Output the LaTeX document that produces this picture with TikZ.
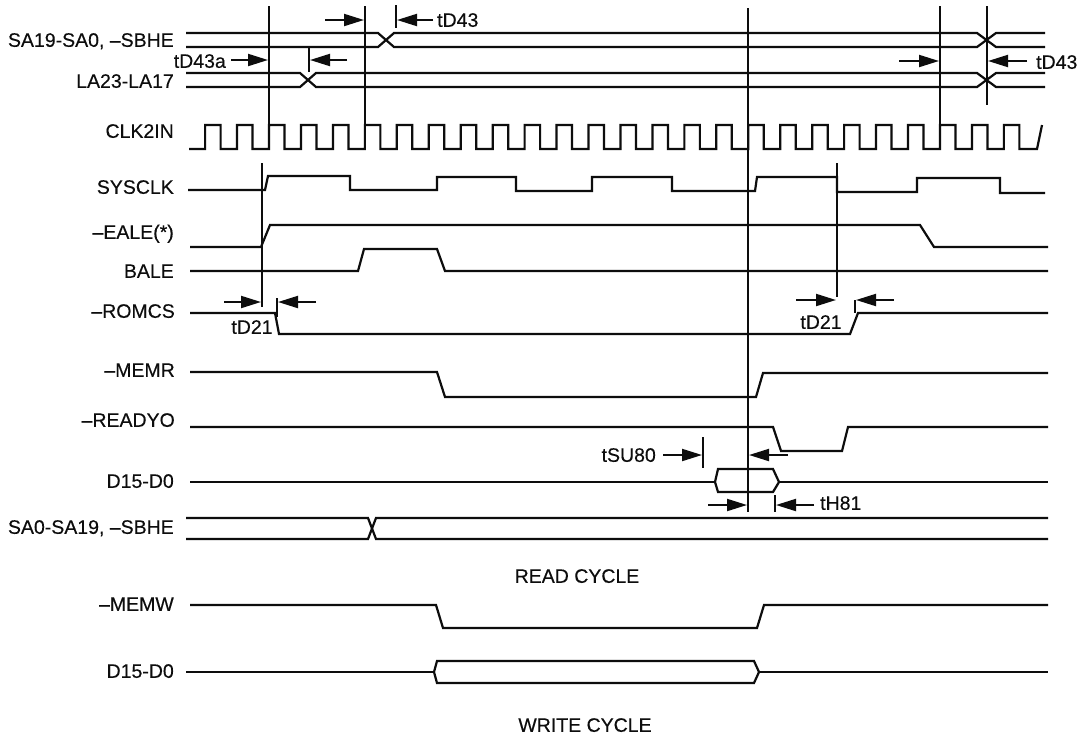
\documentclass[tikz,border=0pt]{standalone}
\usepackage{fontspec}
\setmainfont[FakeBold=0.25]{Liberation Sans}
\usetikzlibrary{arrows.meta}
\tikzset{
  wave/.style={line width=2.2pt,line join=miter,color=black!95},
  vline/.style={line width=2.2pt,color=black!95},
  dim/.style={line width=2pt,color=black!95,-{Triangle[length=20pt,width=12pt]}},
  sig/.style={anchor=east,inner sep=0pt,text height=13.6pt,text depth=0pt,font=\fontsize{19.5}{21}\selectfont,text=black!95},
  lab/.style={inner sep=0pt,text height=13.6pt,text depth=0pt,font=\fontsize{19.5}{21}\selectfont,text=black!95}
}
\begin{document}
\begin{tikzpicture}[x=1pt,y=-1pt]
\useasboundingbox (0,0) rectangle (1086,737);
\fill[white] (0,0) rectangle (1086,737);
% signal names
\node[sig] (n1) at (174,40) {SA19-SA0, –SBHE};
\node[sig] (n2) at (174,81) {LA23-LA17};
\node[sig] (n3) at (174,131) {CLK2IN};
\node[sig] (n4) at (174,187) {SYSCLK};
\node[sig] (n5) at (174,232) {–EALE(*)};
\node[sig] (n6) at (174,271) {BALE};
\node[sig] (n7) at (175,311) {–ROMCS};
\node[sig] (n8) at (175,370) {–MEMR};
\node[sig] (n9) at (175,420) {–READYO};
\node[sig] (n10) at (174,481) {D15-D0};
\node[sig] (n11) at (174,527) {SA0-SA19, –SBHE};
\node[sig] (n12) at (174,604) {–MEMW};
\node[sig] (n13) at (174,671) {D15-D0};
% address buses
\draw[wave] (186,33) -- (378,33) -- (394,47) -- (977,47) -- (996,33) -- (1045,33);
\draw[wave] (186,47) -- (378,47) -- (394,33) -- (977,33) -- (996,47) -- (1045,47);
\draw[wave] (186,73) -- (300,73) -- (316,87) -- (977,87) -- (996,73) -- (1045,73);
\draw[wave] (186,87) -- (300,87) -- (316,73) -- (977,73) -- (996,87) -- (1045,87);
% CLK2IN
\draw[wave] (189,149) foreach \k in {-2,...,23} {
  -- ({269+\k*31.95},149) -- ({269+\k*31.95},125) -- ({284.5+\k*31.95},125) -- ({284.5+\k*31.95},149)}
  -- (1037,149) -- (1042,125);
% SYSCLK
\draw[wave] (188,190) -- (265,190) -- (268,176) -- (350,176) -- (350,190) -- (437,190) -- (437,177)
  -- (516,177) -- (516,191) -- (592,191) -- (592,177) -- (672,177) -- (672,191) -- (755,191) -- (757,177)
  -- (837,177) -- (837,192) -- (917,192) -- (917,178) -- (1000,178) -- (1000,193) -- (1045,193);
% -EALE
\draw[wave] (190,247) -- (261,247) -- (270,225) -- (920,225) -- (934,247) -- (1048,247);
% BALE
\draw[wave] (190,271) -- (358,271) -- (364,249) -- (437,249) -- (445,271) -- (1048,271);
% -ROMCS
\draw[wave] (190,313) -- (275,313) -- (279,334) -- (850,334) -- (858,313) -- (1048,313);
% -MEMR
\draw[wave] (190,372) -- (437,372) -- (445,397) -- (756,397) -- (763,373) -- (1048,373);
% -READYO
\draw[wave] (190,427) -- (773,427) -- (781,451) -- (842,451) -- (848,427) -- (1048,427);
% D15-D0 read
\draw[wave] (190,482) -- (715,482);
\draw[wave] (779,482) -- (1048,482);
\draw[wave] (718,469) -- (773,469) -- (779,482) -- (773,492) -- (718,492) -- (715,482) -- cycle;
% SA0-SA19
\draw[wave] (186,518) -- (368,518) -- (376,539) -- (1048,539);
\draw[wave] (186,539) -- (368,539) -- (376,518) -- (1048,518);
% -MEMW
\draw[wave] (190,605) -- (436,605) -- (443,628) -- (757,628) -- (764,605) -- (1048,605);
% D15-D0 write
\draw[wave] (186,672) -- (434,672);
\draw[wave] (759,672) -- (1048,672);
\draw[wave] (437,661) -- (754,661) -- (759,672) -- (754,683) -- (437,683) -- (434,672) -- cycle;
% vertical reference lines
\draw[vline] (269,6) -- (269,148);
\draw[vline] (365,6) -- (365,148);
\draw[vline] (748,8) -- (748,512);
\draw[vline] (940,6) -- (940,148);
\draw[vline] (987,6) -- (987,105);
\draw[vline] (262,163) -- (262,307);
\draw[vline] (837,163) -- (837,297);
\draw[vline] (396,5) -- (396,28);
\draw[vline] (309,48) -- (309,72);
\draw[vline] (277,298) -- (277,317);
\draw[vline] (855,300) -- (855,313);
\draw[vline] (703,437) -- (703,468);
\draw[vline] (775,495) -- (775,512);
% dimension arrows
\draw[dim] (325,20) -- (364,20);
\draw[dim] (433,20) -- (397,20);
\node[lab,anchor=west] (t1) at (437,20) {tD43};
\node[lab,anchor=east] (t2) at (226,61) {tD43a};
\draw[dim] (231,60) -- (268,60);
\draw[dim] (347,60) -- (310,60);
\draw[dim] (899,61) -- (939,61);
\draw[dim] (1027,61) -- (988,61);
\node[lab,anchor=west] (t3) at (1036,62) {tD43};
\draw[dim] (224,302) -- (261,302);
\draw[dim] (316,302) -- (278,302);
\node[lab] (t4) at (252,327) {tD21};
\draw[dim] (796,300) -- (836,300);
\draw[dim] (894,300) -- (856,300);
\node[lab] (t5) at (821,322) {tD21};
\node[lab,anchor=east] (t6) at (656,455) {tSU80};
\draw[dim] (663,455) -- (702,455);
\draw[dim] (788,455) -- (749,455);
\draw[dim] (708,505) -- (747,505);
\draw[dim] (814,505) -- (776,505);
\node[lab,anchor=west] (t7) at (820,503) {tH81};
% captions
\node[lab] (c1) at (577,576) {READ CYCLE};
\node[lab] (c2) at (585,725) {WRITE CYCLE};
\end{tikzpicture}
\end{document}
